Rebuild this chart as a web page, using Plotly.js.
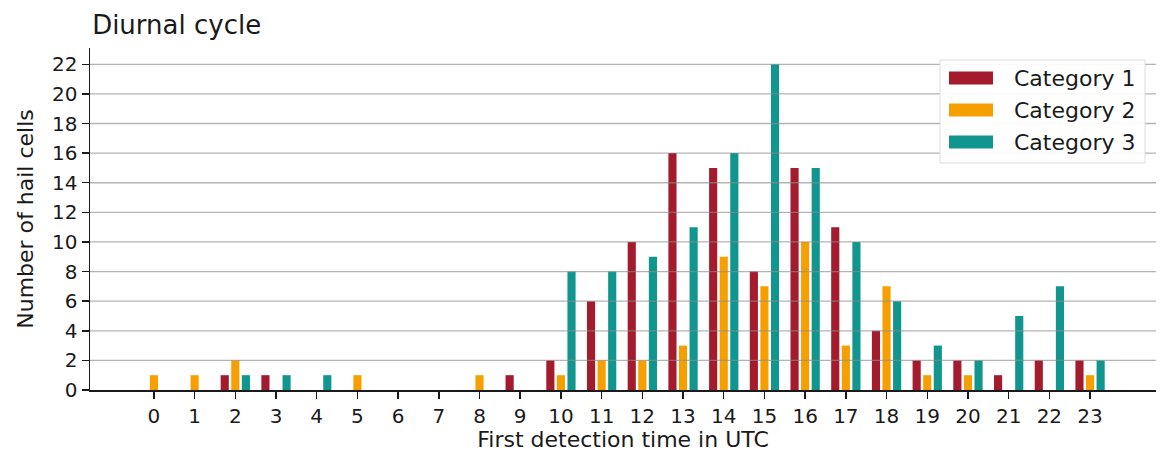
<!DOCTYPE html>
<html>
<head>
<meta charset="utf-8">
<script src="https://cdn.plot.ly/plotly-3.0.1.min.js"></script>
<style>
  html, body { margin: 0; padding: 0; background: #ffffff; }
  #chart { width: 1161px; height: 461px; }
</style>
</head>
<body>
<div id="chart"></div>
<script>
// Hour of first detection (UTC)
const hours = [0, 1, 2, 3, 4, 5, 6, 7, 8, 9, 10, 11, 12, 13, 14, 15, 16, 17, 18, 19, 20, 21, 22, 23];

// Number of hail cells per hour, by category
const category1 = [0, 0, 1, 1, 0, 0, 0, 0, 0, 1, 2, 6, 10, 16, 15, 8, 15, 11, 4, 2, 2, 1, 2, 2];
const category2 = [1, 1, 2, 0, 0, 1, 0, 0, 1, 0, 1, 2, 2, 3, 9, 7, 10, 3, 7, 1, 1, 0, 0, 1];
const category3 = [0, 0, 1, 1, 1, 0, 0, 0, 0, 0, 8, 8, 9, 11, 16, 22, 15, 10, 6, 3, 2, 5, 7, 2];

const seriesNames = ['Category 1', 'Category 2', 'Category 3'];
const yTicks = [0, 2, 4, 6, 8, 10, 12, 14, 16, 18, 20, 22];

const colors = ['#a31b2c', '#f5a000', '#10968f'];
const seriesValues = [category1, category2, category3];
const barWidth = 0.2;
const offsets = [-0.36, -0.1, 0.16];

const W = 1161, H = 461;
const M = { l: 90, r: 5, t: 48, b: 71 };
const plotW = W - M.l - M.r;
const plotH = H - M.t - M.b;
// pixel position on the page -> paper coordinates of the plot area
const px = v => (v - M.l) / plotW;
const py = v => (H - M.b - v) / plotH;

const font = 'DejaVu Sans, sans-serif';
const ink = '#1a1a1a';

const traces = seriesValues.map((vals, i) => ({
  type: 'bar',
  name: seriesNames[i],
  x: hours,
  y: vals,
  width: barWidth,
  offset: offsets[i],
  marker: { color: colors[i], line: { width: 0 } },
  hoverinfo: 'x+y+name',
  showlegend: false
}));

// Horizontal grid drawn over the bars
const shapes = yTicks.filter(v => v > 0).map(v => ({
  type: 'line',
  xref: 'paper', x0: 0, x1: 1,
  yref: 'y', y0: v, y1: v,
  line: { color: 'rgba(140,140,140,0.65)', width: 1.3 },
  layer: 'above'
}));

// Legend box with wide colour patches
const legendBox = { left: 940, right: 1145, top: 60, bottom: 163 };
const rowY = [78, 110, 142];
const patch = { left: 949, right: 993, half: 6.5 };
const textX = 1012;

shapes.push({
  type: 'rect', xref: 'paper', yref: 'paper',
  x0: px(legendBox.left), x1: px(legendBox.right),
  y0: py(legendBox.bottom), y1: py(legendBox.top),
  fillcolor: 'rgba(255,255,255,0.92)',
  line: { color: '#dcdcdc', width: 1 },
  layer: 'above'
});
const annotations = [];
seriesNames.forEach((name, i) => {
  shapes.push({
    type: 'rect', xref: 'paper', yref: 'paper',
    x0: px(patch.left), x1: px(patch.right),
    y0: py(rowY[i] + patch.half), y1: py(rowY[i] - patch.half),
    fillcolor: colors[i], line: { width: 0 },
    layer: 'above'
  });
  annotations.push({
    xref: 'paper', yref: 'paper',
    x: px(textX), y: py(rowY[i]),
    xanchor: 'left', yanchor: 'middle',
    text: name, showarrow: false,
    font: { family: font, size: 22, color: ink }
  });
});

const layout = {
  width: W,
  height: H,
  margin: M,
  paper_bgcolor: '#ffffff',
  plot_bgcolor: '#ffffff',
  font: { family: font, size: 20, color: ink },
  title: {
    text: 'Diurnal cycle',
    font: { family: font, size: 26, color: ink },
    x: 0.002, xanchor: 'left', xref: 'paper',
    y: 1 - 25 / H, yref: 'container', yanchor: 'middle'
  },
  barmode: 'group',
  showlegend: false,
  xaxis: {
    range: [-1.57, 24.62],
    tickmode: 'array',
    tickvals: hours,
    ticktext: hours.map(String),
    ticks: 'outside',
    ticklen: 7,
    tickwidth: 1.5,
    tickcolor: ink,
    showline: true,
    linecolor: ink,
    linewidth: 1.5,
    showgrid: false,
    zeroline: false,
    tickfont: { family: font, size: 20, color: ink },
    title: {
      text: 'First detection time in UTC',
      font: { family: font, size: 22, color: ink },
      standoff: 5
    }
  },
  yaxis: {
    range: [0, 23.1],
    tickmode: 'array',
    tickvals: yTicks,
    ticktext: yTicks.map(String),
    ticks: 'outside',
    ticklen: 7,
    tickwidth: 1.5,
    tickcolor: ink,
    showline: true,
    linecolor: ink,
    linewidth: 1.5,
    showgrid: false,
    zeroline: false,
    tickfont: { family: font, size: 20, color: ink },
    title: {
      text: 'Number of hail cells',
      font: { family: font, size: 22, color: ink },
      standoff: 12
    }
  },
  shapes: shapes,
  annotations: annotations
};

Plotly.newPlot('chart', traces, layout, { displayModeBar: false, staticPlot: true });
</script>
</body>
</html>
